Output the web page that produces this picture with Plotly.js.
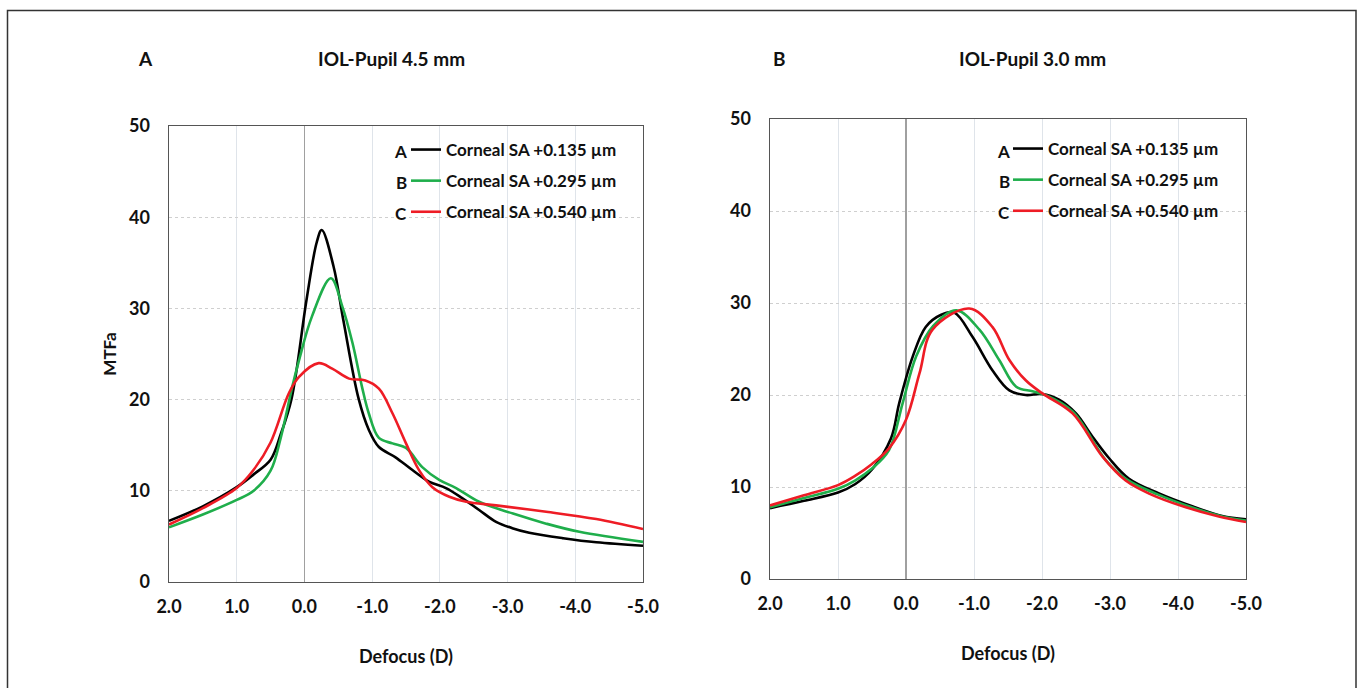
<!DOCTYPE html>
<html>
<head>
<meta charset="utf-8">
<script src="https://cdn.plot.ly/plotly-3.0.1.min.js"></script>
<style>html,body{margin:0;padding:0;background:#fff;}#chart{width:1363px;height:688px;}</style>
</head>
<body>
<div id="chart"></div>
<script>
// ---- Data ----
const seriesNames = ["Corneal SA +0.135 \u00b5m", "Corneal SA +0.295 \u00b5m", "Corneal SA +0.540 \u00b5m"];
const seriesLetters = ["A", "B", "C"];
const seriesColors = ["#000000", "#1fae4b", "#ee1c25"];
const xTickVals = [2, 1, 0, -1, -2, -3, -4, -5];
const xTickText = ["2.0", "1.0", "0.0", "-1.0", "-2.0", "-3.0", "-4.0", "-5.0"];
const yTickVals = [0, 10, 20, 30, 40, 50];

// Panel A: IOL-Pupil 4.5 mm
const a_black_x = [2.0, 1.5, 1.0, 0.75, 0.5, 0.35, 0.19, -0.03, -0.18, -0.255, -0.43, -0.575, -0.80, -0.95, -1.10, -1.34, -1.59, -1.84, -2.09, -2.33, -2.58, -2.83, -3.07, -3.32, -3.82, -4.31, -5.0];
const a_black_y = [6.7, 8.3, 10.4, 11.8, 13.4, 16.2, 20.1, 30.9, 37.2, 38.6, 34.6, 28.7, 20.1, 16.7, 14.8, 13.7, 12.3, 11.0, 10.3, 9.2, 7.9, 6.6, 5.9, 5.4, 4.8, 4.35, 3.98];
const a_green_x = [2.0, 1.5, 1.0, 0.75, 0.5, 0.35, 0.18, 0.08, -0.11, -0.39, -0.56, -0.71, -0.85, -0.95, -1.10, -1.30, -1.50, -1.74, -1.99, -2.24, -2.58, -3.08, -3.57, -4.06, -5.0];
const a_green_y = [6.0, 7.4, 9.0, 10.0, 12.2, 15.8, 21.4, 24.3, 29.1, 33.3, 30.2, 26.2, 21.4, 18.5, 15.8, 15.2, 14.7, 12.6, 11.2, 10.3, 8.8, 7.5, 6.4, 5.5, 4.4];
const a_red_x = [2.0, 1.5, 1.0, 0.75, 0.5, 0.23, 0.08, -0.21, -0.41, -0.66, -0.90, -1.10, -1.30, -1.50, -1.69, -1.89, -2.14, -2.39, -2.83, -3.57, -4.31, -5.0];
const a_red_y = [6.3, 8.1, 10.3, 12.3, 15.3, 20.7, 22.5, 24.0, 23.4, 22.3, 22.1, 21.2, 18.5, 15.2, 12.3, 10.4, 9.35, 8.8, 8.4, 7.7, 6.9, 5.8];

// Panel B: IOL-Pupil 3.0 mm
const b_black_x = [2.0, 1.5, 1.0, 0.75, 0.5, 0.22, 0.10, -0.10, -0.29, -0.51, -0.71, -0.98, -1.27, -1.52, -1.76, -2.0, -2.25, -2.50, -2.74, -2.99, -3.28, -3.72, -4.21, -4.65, -5.0];
const b_black_y = [7.7, 8.5, 9.4, 10.3, 11.9, 15.3, 19.1, 24.2, 27.4, 28.7, 28.95, 26.3, 22.7, 20.5, 20.0, 20.1, 19.5, 18.0, 15.5, 13.1, 10.9, 9.3, 7.9, 6.85, 6.5];
const b_green_x = [2.0, 1.5, 1.0, 0.75, 0.5, 0.25, 0.05, -0.15, -0.40, -0.74, -1.08, -1.37, -1.62, -1.86, -2.05, -2.45, -2.94, -3.25, -3.70, -4.20, -4.65, -5.0];
const b_green_y = [7.8, 8.8, 9.8, 10.7, 12.0, 14.0, 19.1, 24.2, 27.5, 29.2, 27.1, 23.8, 20.9, 20.4, 20.0, 18.2, 12.9, 10.8, 9.2, 7.8, 6.8, 6.35];
const b_red_x = [2.0, 1.5, 1.0, 0.75, 0.5, 0.25, 0.0, -0.2, -0.39, -0.93, -1.27, -1.52, -1.76, -2.0, -2.45, -2.89, -3.23, -3.6, -4.07, -4.6, -5.0];
const b_red_y = [8.0, 9.1, 10.2, 11.2, 12.5, 14.2, 17.3, 22.4, 27.1, 29.4, 27.4, 23.8, 21.6, 20.2, 18.0, 13.3, 10.7, 9.2, 7.9, 6.8, 6.2];

// ---- Build traces ----
const FONT = "Lato, 'Open Sans', sans-serif";
const panelA = [[a_black_x, a_black_y], [a_green_x, a_green_y], [a_red_x, a_red_y]];
const panelB = [[b_black_x, b_black_y], [b_green_x, b_green_y], [b_red_x, b_red_y]];
const traces = [];
panelA.forEach((d, i) => traces.push({
  x: d[0], y: d[1], type: 'scatter', mode: 'lines', name: seriesNames[i],
  line: {color: seriesColors[i], width: 2.6, shape: 'spline', smoothing: 1.0},
  xaxis: 'x', yaxis: 'y', legend: 'legend', legendgroup: 'a' + i
}));
panelB.forEach((d, i) => traces.push({
  x: d[0], y: d[1], type: 'scatter', mode: 'lines', name: seriesNames[i],
  line: {color: seriesColors[i], width: 2.6, shape: 'spline', smoothing: 1.0},
  xaxis: 'x2', yaxis: 'y2', legend: 'legend2', legendgroup: 'b' + i
}));

function xAxis(domain, anchor) {
  return {
    domain: domain, anchor: anchor, range: [2, -5], autorange: false,
    tickmode: 'array', tickvals: xTickVals, ticktext: xTickText,
    ticks: 'outside', ticklen: 8, tickcolor: 'rgba(0,0,0,0)',
    tickfont: {family: FONT, size: 18, color: '#111', weight: 700},
    showgrid: true, gridcolor: '#dfe4ea', gridwidth: 1,
    zeroline: true, zerolinecolor: '#a0a0a0', zerolinewidth: 1.2,
    showline: true, linecolor: '#555', linewidth: 1.4, mirror: true,
    title: {text: 'Defocus (D)', font: {family: FONT, size: 18, color: '#111', weight: 700}, standoff: 34}
  };
}
function yAxis(domain, anchor, title) {
  return {
    domain: domain, anchor: anchor, range: [0, 50], autorange: false,
    tickmode: 'array', tickvals: yTickVals,
    ticks: 'outside', ticklen: 14, tickcolor: 'rgba(0,0,0,0)',
    tickfont: {family: FONT, size: 18, color: '#111', weight: 700},
    showgrid: true, gridcolor: '#cfcfcf', gridwidth: 1, griddash: 'dot',
    zeroline: false,
    showline: true, linecolor: '#555', linewidth: 1.4, mirror: true,
    title: title ? {text: title, font: {family: FONT, size: 17, color: '#111', weight: 700}, standoff: 8} : {text: ''}
  };
}

const legendCommon = {
  font: {family: FONT, size: 17, color: '#111', weight: 700},
  bgcolor: 'rgba(255,255,255,0)', borderwidth: 0,
  traceorder: 'grouped', tracegroupgap: 6, xanchor: 'left', yanchor: 'top'
};

const annotations = [
  {text: 'A', x: 145/1363, y: 1 - 58/688},
  {text: 'IOL-Pupil 4.5 mm', x: 391/1363, y: 1 - 58/688},
  {text: 'B', x: 779/1363, y: 1 - 58/688},
  {text: 'IOL-Pupil 3.0 mm', x: 1032/1363, y: 1 - 58/688}
].map(a => ({xref: 'paper', yref: 'paper', x: a.x, y: a.y, text: a.text, showarrow: false,
  xanchor: 'center', yanchor: 'middle', font: {family: FONT, size: 19, color: '#111', weight: 700}}));

const letterRowsA = [151, 182, 212];
const letterRowsB = [150, 180, 211];
seriesLetters.forEach((L, i) => {
  annotations.push({xref: 'paper', yref: 'paper', x: 409/1363, y: 1 - (letterRowsA[i] + 1)/688, text: L,
    showarrow: false, xanchor: 'right', yanchor: 'middle', font: {family: FONT, size: 17, color: '#111', weight: 700}});
  annotations.push({xref: 'paper', yref: 'paper', x: 1012/1363, y: 1 - (letterRowsB[i] + 1)/688, text: L,
    showarrow: false, xanchor: 'right', yanchor: 'middle', font: {family: FONT, size: 17, color: '#111', weight: 700}});
});

const layout = {
  width: 1363, height: 688,
  margin: {l: 0, r: 0, t: 0, b: 0},
  paper_bgcolor: '#fff', plot_bgcolor: '#fff',
  showlegend: true,
  xaxis: xAxis([169/1363, 643/1363], 'y'),
  yaxis: yAxis([1 - 582/688, 1 - 126/688], 'x', 'MTFa'),
  xaxis2: xAxis([770/1363, 1246/1363], 'y2'),
  yaxis2: yAxis([1 - 579/688, 1 - 119/688], 'x2', null),
  legend: Object.assign({}, legendCommon, {x: 406/1363, y: 1 - 132/688}),
  legend2: Object.assign({}, legendCommon, {x: 1008/1363, y: 1 - 131/688}),
  annotations: annotations,
  shapes: [
    {type: 'rect', xref: 'paper', yref: 'paper', x0: 7.5/1363, x1: 1356/1363, y0: -0.05, y1: 1 - 10.5/688,
     line: {color: '#333', width: 1.5}, fillcolor: 'rgba(0,0,0,0)', layer: 'below'}
  ]
};

Plotly.newPlot('chart', traces, layout, {displayModeBar: false, staticPlot: true});
</script>
</body>
</html>
